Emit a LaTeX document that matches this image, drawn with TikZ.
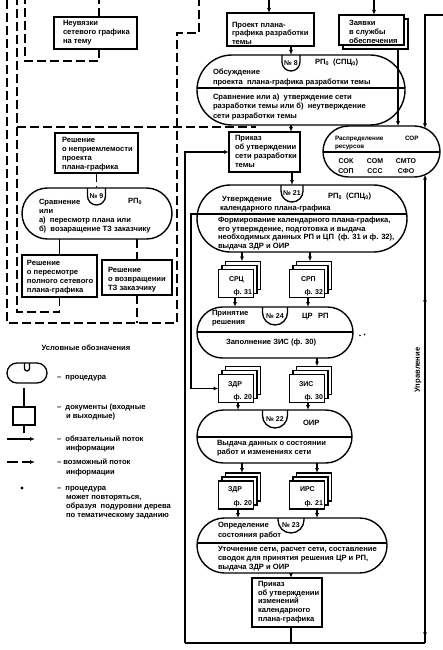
\documentclass[tikz,border=0pt]{standalone}
\usepackage{fontspec}
\setmainfont{Liberation Sans}
\usetikzlibrary{shapes.misc,arrows.meta,decorations.markings}
\newcommand\tabU[4]{\draw[line width=1.3pt,rounded corners=#3pt] (#1-#3,#2) -- (#1-#3,#2+#4) -- (#1+#3,#2+#4) -- (#1+#3,#2);}
\newcommand\docstk[3]{%
 \node[docbox] (#1c) at (#2+7,#3-8) {};
 \node[docbox] (#1b) at (#2+3.5,#3-4) {};
 \node[docbox] (#1) at (#2,#3) {};}
\begin{document}
\begin{tikzpicture}[x=1pt,y=-1pt,
 every node/.style={inner sep=0pt,outer sep=0pt},
 f/.style={font=\bfseries\fontsize{7.6}{9}\selectfont},
 fs/.style={font=\bfseries\fontsize{6.3}{8}\selectfont},
 fc/.style={font=\bfseries\fontsize{7}{8}\selectfont},
 tx/.style={f,anchor=base west},
 txe/.style={fc,anchor=base east},
 txd/.style={fc,anchor=base west},
 box/.style={draw,line width=1.2pt,fill=white},
 docbox/.style={draw,line width=1.1pt,fill=white,minimum width=35,minimum height=28},
 proc/.style={draw,line width=1.4pt,rounded rectangle},
 div/.style={path picture={\draw[line width=1.1pt] ([yshift=-#1]path picture bounding box.north west) -- ([yshift=-#1]path picture bounding box.north east);}},
 ln/.style={line width=1.2pt},
 arr/.style={line width=1.2pt,-{Latex[length=5pt,width=4pt]}},
 dsh/.style={line width=1.2pt,dash pattern=on 9pt off 4pt},
 dotn/.style={circle,fill,minimum size=1.8pt},
]
\useasboundingbox (0,0) rectangle (443,650);
\fill[white] (0,0) rectangle (443,650);

% ---------- helper coordinates
\coordinate (top0) at (0,0);
\coordinate (c61) at (0,61);
\coordinate (c99) at (99,0);
\coordinate (c312) at (0,312);
\coordinate (c323) at (0,323);
\coordinate (x25) at (25,0);
\coordinate (x17) at (17,0);
\coordinate (l7top) at (7,0);
\coordinate (l7bot) at (7,323);
\coordinate (r177bot) at (177,323);
\coordinate (r177top) at (177,33);
\coordinate (k199) at (199,33);
\coordinate (k199top) at (199,0);
\coordinate (d127a) at (17,127);
\coordinate (d127b) at (256,127);

% ---------- left boxes
\node[box,minimum width=83,minimum height=32] (b0) at (95.5,33) {};
\node[tx] (b0a) at (63,26) {Неувязки};
\node[tx] (b0b) at (63,35) {сетевого графика};
\node[tx] (b0c) at (63,44) {на тему};

\node[box,minimum width=83,minimum height=40] (b1) at (96.5,153) {};
\node[tx] (b1a) at (62,142.5) {Решение};
\node[tx] (b1b) at (62,151.5) {о неприемлемости};
\node[tx] (b1c) at (62,160.5) {проекта};
\node[tx] (b1d) at (62,169.5) {плана-графика};

\node[proc,minimum width=150,minimum height=51] (p9) at (97,213.5) {};
\tabU{96.5}{188}{9}{17}
\node[fc] (n9) at (96.5,196.5) {№ 9};
\node[tx] (t9a) at (39,204.5) {Сравнение};
\node[tx] (t9r) at (128,203) {РП\textsubscript{0}};
\node[tx] (t9b) at (39,213.5) {или};
\node[tx] (t9c) at (39,222.5) {а)\ \ пересмотр плана или};
\node[tx] (t9d) at (39,231.5) {б)\ \ возаращение ТЗ заказчику};

\node[box,minimum width=75,minimum height=42] (b2) at (59.5,276) {};
\node[tx] (b2a) at (27,265) {Решение};
\node[tx] (b2b) at (27,274) {о пересмотре};
\node[tx] (b2c) at (27,283) {полного сетевого};
\node[tx] (b2d) at (27,292) {плана-графика};

\node[box,minimum width=70,minimum height=35] (b3) at (137,277.5) {};
\node[tx] (b3a) at (108,272) {Решение};
\node[tx] (b3b) at (108,281) {о возвращении};
\node[tx] (b3c) at (108,290) {ТЗ заказчику};

% ---------- left dashed network
\draw[dsh] (b0.north -| c99) -- (c99 |- top0);
\draw[dsh] (b0.south -| c99) -- (c99 |- c61) -- (x25 |- c61) -- (x25 |- top0);
\draw[dsh] (l7top) -- (l7bot) -- (r177bot) -- (r177top) -- (k199) -- (k199top);
\draw[dsh] (b3.south) -- (b3.south |- c323);
\draw[dsh] (b2.south) -- (b2.south |- c312) -- (x17 |- c312) -- (x17 |- top0);
\draw[dsh] (d127a) -- (d127b);
\draw[dsh] (b1.south) -- (b1.south |- p9.north);
\draw[ln] (b2.north |- p9.south) -- (b2.north);
\draw[dsh] (b3.north |- p9.south) -- (b3.north);

% ---------- top boxes
\node[box,minimum width=87,minimum height=33] (bP) at (270.5,29.5) {};
\node[tx] (bPa) at (232,27.5) {Проект плана-};
\node[tx] (bPb) at (232,36) {графика разработки};
\node[tx] (bPc) at (232,44.5) {темы};

\node[box,minimum width=65,minimum height=30] (bZs) at (375.5,34) {};
\node[box,minimum width=65,minimum height=30] (bZ) at (371.5,30) {};
\node[tx] (bZa) at (349,25.5) {Заявки};
\node[tx] (bZb) at (349,34.5) {в службы};
\node[tx] (bZc) at (349,43.5) {обеспечения};

% ---------- procedure 8
\node[proc,minimum width=208,minimum height=70,div=33pt] (p8) at (301,90) {};
\tabU{291}{55}{9}{16}
\coordinate (p8top) at (291,55);
\node[fc] (n8) at (291,63.5) {№ 8};
\node[tx] (t8a) at (213,75) {Обсуждение};
\node[tx] (t8r) at (315,65) {РП\textsubscript{0}\ \ (СПЦ\textsubscript{0})};
\node[tx] (t8b) at (213,84.5) {проекта\ \ плана-графика разработки темы};
\node[tx] (t8c) at (213,100) {Сравнение или а)\ \ утверждение сети};
\node[tx] (t8d) at (213,109) {разработки темы или б)\ \ неутверждение};
\node[tx] (t8e) at (213,118) {сети разработки темы};

% ---------- Приказ 1
\node[box,minimum width=71,minimum height=40] (bR) at (264.5,152) {};
\node[tx] (bRa) at (235,140.5) {Приказ};
\node[tx] (bRb) at (235,149.5) {об утверждении};
\node[tx] (bRc) at (235,158.5) {сети разработки};
\node[tx] (bRd) at (235,167.5) {темы};

% ---------- Распределение
\node[proc,minimum width=117,minimum height=51,div=26pt] (pR) at (381.5,151.5) {};
\node[fs,anchor=base west] (tRa) at (335,140) {Распределение};
\node[fs,anchor=base west] (tRs) at (405,140) {СОР};
\node[fs,anchor=base west] (tRb) at (335,148.5) {ресурсов};
\node[fc,anchor=base] (tR1) at (346,163) {СОК};
\node[fc,anchor=base] (tR2) at (375,163) {СОМ};
\node[fc,anchor=base] (tR3) at (406,163) {СМТО};
\node[fc,anchor=base] (tR4) at (346,173.5) {СОП};
\node[fc,anchor=base] (tR5) at (375,173.5) {ССС};
\node[fc,anchor=base] (tR6) at (406,173.5) {СФО};

% ---------- procedure 21
\node[proc,minimum width=210,minimum height=67,div=29pt] (p21) at (302,218.5) {};
\tabU{292}{185}{11}{17}
\coordinate (p21top) at (292,185);
\node[fc] (n21) at (292,193.5) {№ 21};
\node[tx] (t21a) at (222,201) {Утверждение};
\node[tx] (t21r) at (328,198) {РП\textsubscript{0}\ \ (СПЦ\textsubscript{0})};
\node[tx] (t21b) at (220,210) {календарного плана-графика};
\node[tx] (t21c) at (218,222.5) {Формирование календарного плана-графика,};
\node[tx] (t21d) at (218,231) {его утверждение, подготовка и выдача};
\node[tx] (t21e) at (218,239.5) {необходимых данных РП и ЦП\ \ (ф. 31 и ф. 32),};
\node[tx] (t21f) at (218,248.5) {выдача ЗДР и ОИР};

% ---------- documents row 1
\docstk{dA1}{236}{283.5}
\node[txd] (dA1t) at (229,281) {СРЦ};
\node[txe] (dA1u) at (252,294.5) {ф. 31};
\docstk{dB1}{307}{283.5}
\node[txd] (dB1t) at (301,281) {СРП};
\node[txe] (dB1u) at (323,294.5) {ф. 32};

% ---------- procedure 24
\node[proc,minimum width=156,minimum height=51,div=25pt] (p24) at (275,332.5) {};
\tabU{275}{307}{12.5}{18}
\node[fc] (n24) at (275,316) {№ 24};
\node[tx] (t24a) at (212,315.5) {Принятие};
\node[tx] (t24b) at (212,324.5) {решения};
\node[tx] (t24c) at (302,318.5) {ЦР};
\node[tx] (t24d) at (318,318.5) {РП};
\node[tx] (t24e) at (226,344.5) {Заполнение ЗИС (ф. 30)};
\node[dotn] (dt1) at (360,335.5) {};
\node[dotn] (dt2) at (364.5,334.5) {};

% ---------- documents row 2
\docstk{dC1}{236}{388.5}
\node[txd] (dC1t) at (228,386) {ЗДР};
\node[txe] (dC1u) at (252,399) {ф. 20};
\docstk{dD1}{307}{388.5}
\node[txd] (dD1t) at (299,386) {ЗИС};
\node[txe] (dD1u) at (323,399) {ф. 30};

% ---------- procedure 22
\node[proc,minimum width=155,minimum height=53,div=27pt] (p22) at (274.5,436.5) {};
\tabU{275}{410}{12.5}{18}
\node[fc] (n22) at (275,419) {№ 22};
\node[tx] (t22r) at (303,425.5) {ОИР};
\node[tx] (t22a) at (217,445.5) {Выдача данных о состоянии};
\node[tx] (t22b) at (217,454.5) {работ и изменениях сети};

% ---------- documents row 3
\docstk{dC2}{236}{495}
\node[txd] (dC2t) at (228,491) {ЗДР};
\node[txe] (dC2u) at (252,505.5) {ф. 20};
\docstk{dD2}{307}{495}
\node[txd] (dD2t) at (300,491) {ИРС};
\node[txe] (dD2u) at (323,505.5) {ф. 21};

% ---------- procedure 23
\node[proc,minimum width=190,minimum height=55,div=25pt] (p23) at (292,545.5) {};
\tabU{291}{518}{13}{15}
\node[fc] (n23) at (291,525.5) {№ 23};
\node[tx] (t23a) at (218,527.5) {Определение};
\node[tx] (t23b) at (218,537) {состояния работ};
\node[tx] (t23c) at (218,551.5) {Уточнение сети, расчет сети, составление};
\node[tx] (t23d) at (218,560.5) {сводок для принятия решения ЦР и РП,};
\node[tx] (t23e) at (218,569) {выдача ЗДР и ОИР};

% ---------- Приказ 2
\node[box,minimum width=70,minimum height=49] (bQ) at (287,602.5) {};
\node[tx] (bQa) at (258,586) {Приказ};
\node[tx] (bQb) at (258,595) {об утверждении};
\node[tx] (bQc) at (258,603.5) {изменений};
\node[tx] (bQd) at (258,612.5) {календарного};
\node[tx] (bQe) at (258,621) {плана-графика};

% ---------- Управление label
\node[f,rotate=90] (upr) at (418,370) {Управление};

% ---------- central connectors
\coordinate (in1) at (269,0);
\coordinate (in2) at (374,0);
\coordinate (in3) at (443,15);
\coordinate (k425) at (425,15);
\coordinate (pRtopA) at (398,126.2);
\coordinate (pRtopB) at (425,128.5);
\coordinate (pRbot) at (425,174.6);
\coordinate (a242) at (242,0);
\coordinate (a310) at (310,0);
\coordinate (a235) at (235,0);
\coordinate (a238) at (238,0);
\coordinate (a308) at (308,0);
\coordinate (a317) at (317,0);
\coordinate (a291) at (291,0);
\coordinate (br1) at (197.4,214);
\coordinate (br2) at (191,214);
\coordinate (blL) at (185,643);
\coordinate (blR) at (425,643);

\draw[arr] (in1) -- (in1 |- bP.north);
\draw[arr] (bP.south -| p8top) -- (p8top);
\draw[arr] (in2) -- (in2 |- bZ.north);
\draw[arr] (bZs.south -| pRtopA) -- (pRtopA);
\draw[arr] (in3) -- (k425) -- (pRtopB);
\draw[arr] (p8.south -| p8top) -- (bR.north -| p8top);
\draw[arr] (bR.south -| p21top) -- (p21top);
\draw[arr] (p21.south -| a242) -- (dA1c.north -| a242);
\draw[arr] (p21.south -| a310) -- (dB1c.north -| a310);
\draw[arr] (dA1.south -| a235) -- (p24.north -| a235);
\draw[arr] (dB1.south -| a308) -- (p24.north -| a308);
\draw[arr] (p24.south -| a317) -- (dD1c.north -| a317);
\draw[arr] (br1) -- (br2) -- (br2 |- dC1.west) -- (dC1.west);
\draw[arr] (dC1.south -| a238) -- (p22.north -| a238);
\draw[arr] (dD1.south -| a308) -- (p22.north -| a308);
\draw[arr] (p22.south -| a242) -- (dC2c.north -| a242);
\draw[arr] (p22.south -| a317) -- (dD2c.north -| a317);
\draw[arr] (dC2.south -| a238) -- (p23.north -| a238);
\draw[arr] (dD2.south -| a317) -- (p23.north -| a317);
\draw[arr] (p23.south -| a291) -- (bQ.north -| a291);
\draw[ln] (bQ.south -| a291) -- (a291 |- blL);
\draw[ln] (blL) -- (blR);
\draw[arr] (blL) -- (blL |- bR.west) -- (bR.west);
\draw[arr,postaction={decorate,decoration={markings,
   mark=at position 0.74 with {\arrow{Latex[length=5pt,width=4pt]}},
   mark=at position 0.012 with {\arrowreversed{Latex[length=5pt,width=4pt]}}}}] (blR) -- (pRbot);

% ---------- legend
\node[f,anchor=base] (lgT) at (86,350.5) {Условные обозначения};
\node[proc,minimum width=40,minimum height=20,line width=1.3pt] (lgP) at (27,373) {};
\tabU{27}{363}{2.5}{8}
\node[tx] (lgPt) at (57,379.5) {–\ \ процедура};
\coordinate (c388) at (0,388);
\coordinate (c433) at (0,433);
\node[box,minimum width=22,minimum height=18] (lgD) at (24,416) {};
\draw[ln] (lgD.north) -- (lgD.north |- c388);
\draw[ln] (lgD.south) -- (lgD.south |- c433);
\node[tx] (lgDt) at (57,409.5) {–\ \ документы (входные};
\node[tx] (lgDu) at (66,418.5) {и выходные)};
\coordinate (la1) at (7,439);
\coordinate (la2) at (35,439);
\draw[arr] (la1) -- (la2);
\node[tx] (lgAt) at (57,441.5) {–\ \ обязательный поток};
\node[tx] (lgAu) at (66,450.5) {информации};
\coordinate (lb1) at (7,462);
\coordinate (lb2) at (35,462);
\draw[arr,dash pattern=on 11pt off 4pt] (lb1) -- (lb2);
\node[tx] (lgBt) at (57,464.5) {– возможный поток};
\node[tx] (lgBu) at (66,474.5) {информации};
\node[circle,fill,minimum size=3.2pt] (lgC) at (22,488) {};
\node[tx] (lgCt) at (57,490.5) {–\ \ процедура};
\node[tx] (lgCu) at (66,499.5) {может повторяться,};
\node[tx] (lgCv) at (66,508.5) {образуя\ \ подуровни дерева};
\node[tx] (lgCw) at (66,517.5) {по тематическому заданию};
\end{tikzpicture}
\end{document}
